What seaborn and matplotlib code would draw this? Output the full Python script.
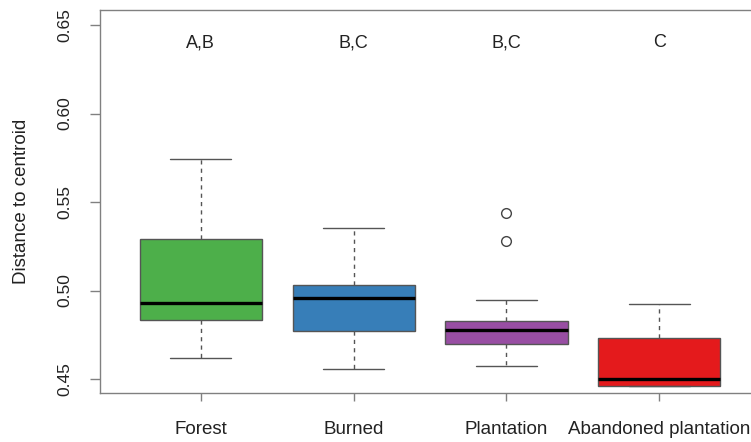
import numpy as np
import pandas as pd
import matplotlib
matplotlib.use("Agg")
import matplotlib.pyplot as plt
import seaborn as sns

# Distance to group centroid per habitat
categories = ["Forest", "Burned", "Plantation", "Abandoned plantation"]
forest = [0.4617, 0.4833, 0.4931, 0.5291, 0.5741]
burned = [0.4556, 0.4769, 0.4959, 0.5033, 0.5351]
plantation = [0.4575, 0.4630, 0.4665, 0.4698, 0.4720, 0.4752, 0.4775,
              0.4790, 0.4812, 0.4829, 0.4944, 0.5281, 0.5440]
abandoned = [0.4460, 0.4460, 0.4502, 0.4733, 0.4922]
group_letters = ["A,B", "B,C", "B,C", "C"]
colors = ["#4DAF4A", "#377EB8", "#984EA3", "#E41A1C"]
yticks = [0.45, 0.50, 0.55, 0.60, 0.65]

values = [forest, burned, plantation, abandoned]
df = pd.DataFrame({
    "habitat": np.repeat(categories, [len(v) for v in values]),
    "distance": np.concatenate(values),
})

sns.set_theme(style="white")
plt.rcParams["font.family"] = ["Liberation Sans", "DejaVu Sans"]

fig = plt.figure(figsize=(7.51, 4.42), dpi=100)
ax = fig.add_axes([100 / 751, 49 / 442, 660 / 751, 383 / 442])

edge = "#555555"
sns.boxplot(
    data=df, x="habitat", y="distance", hue="habitat",
    order=categories, hue_order=categories, palette=colors,
    width=0.8, whis=1.5, saturation=1, linecolor=edge, linewidth=1.0,
    legend=False, ax=ax,
    medianprops=dict(color="black", linewidth=2.4),
    whiskerprops=dict(color=edge, linestyle=(0, (3, 3))),
    capprops=dict(color=edge),
    flierprops=dict(marker="o", markersize=7, markerfacecolor="none",
                    markeredgecolor="#444444", markeredgewidth=1.0),
)

# significance group letters above each box
for i, lab in enumerate(group_letters):
    ax.text(i, 0.640, lab, ha="center", va="center", fontsize=13, color="#222222")

ax.set_xlim(-0.66, 3.66)
ax.set_ylim(0.4421, 0.6585)
ax.set_yticks(yticks)
ax.set_yticklabels([f"{v:.2f}" for v in yticks], rotation=90, va="center")
ax.set_xlabel("")
ax.set_ylabel("Distance to centroid", fontsize=13.5, color="#222222")
ax.yaxis.set_label_coords(-(100 - 21) / 660, 0.5)
ax.yaxis.label.set_verticalalignment("center")

ax.tick_params(axis="y", left=True, length=7, width=1, color="#808080",
               pad=13, labelsize=12.5, labelcolor="#222222")
ax.tick_params(axis="x", bottom=True, length=6, width=1, color="#808080",
               pad=14, labelsize=13.5, labelcolor="#222222")

for side, sp in ax.spines.items():
    sp.set_color("#808080")
    sp.set_linewidth(1.0)
    sp.set_visible(True)

fig.savefig("out.png", dpi=100)
